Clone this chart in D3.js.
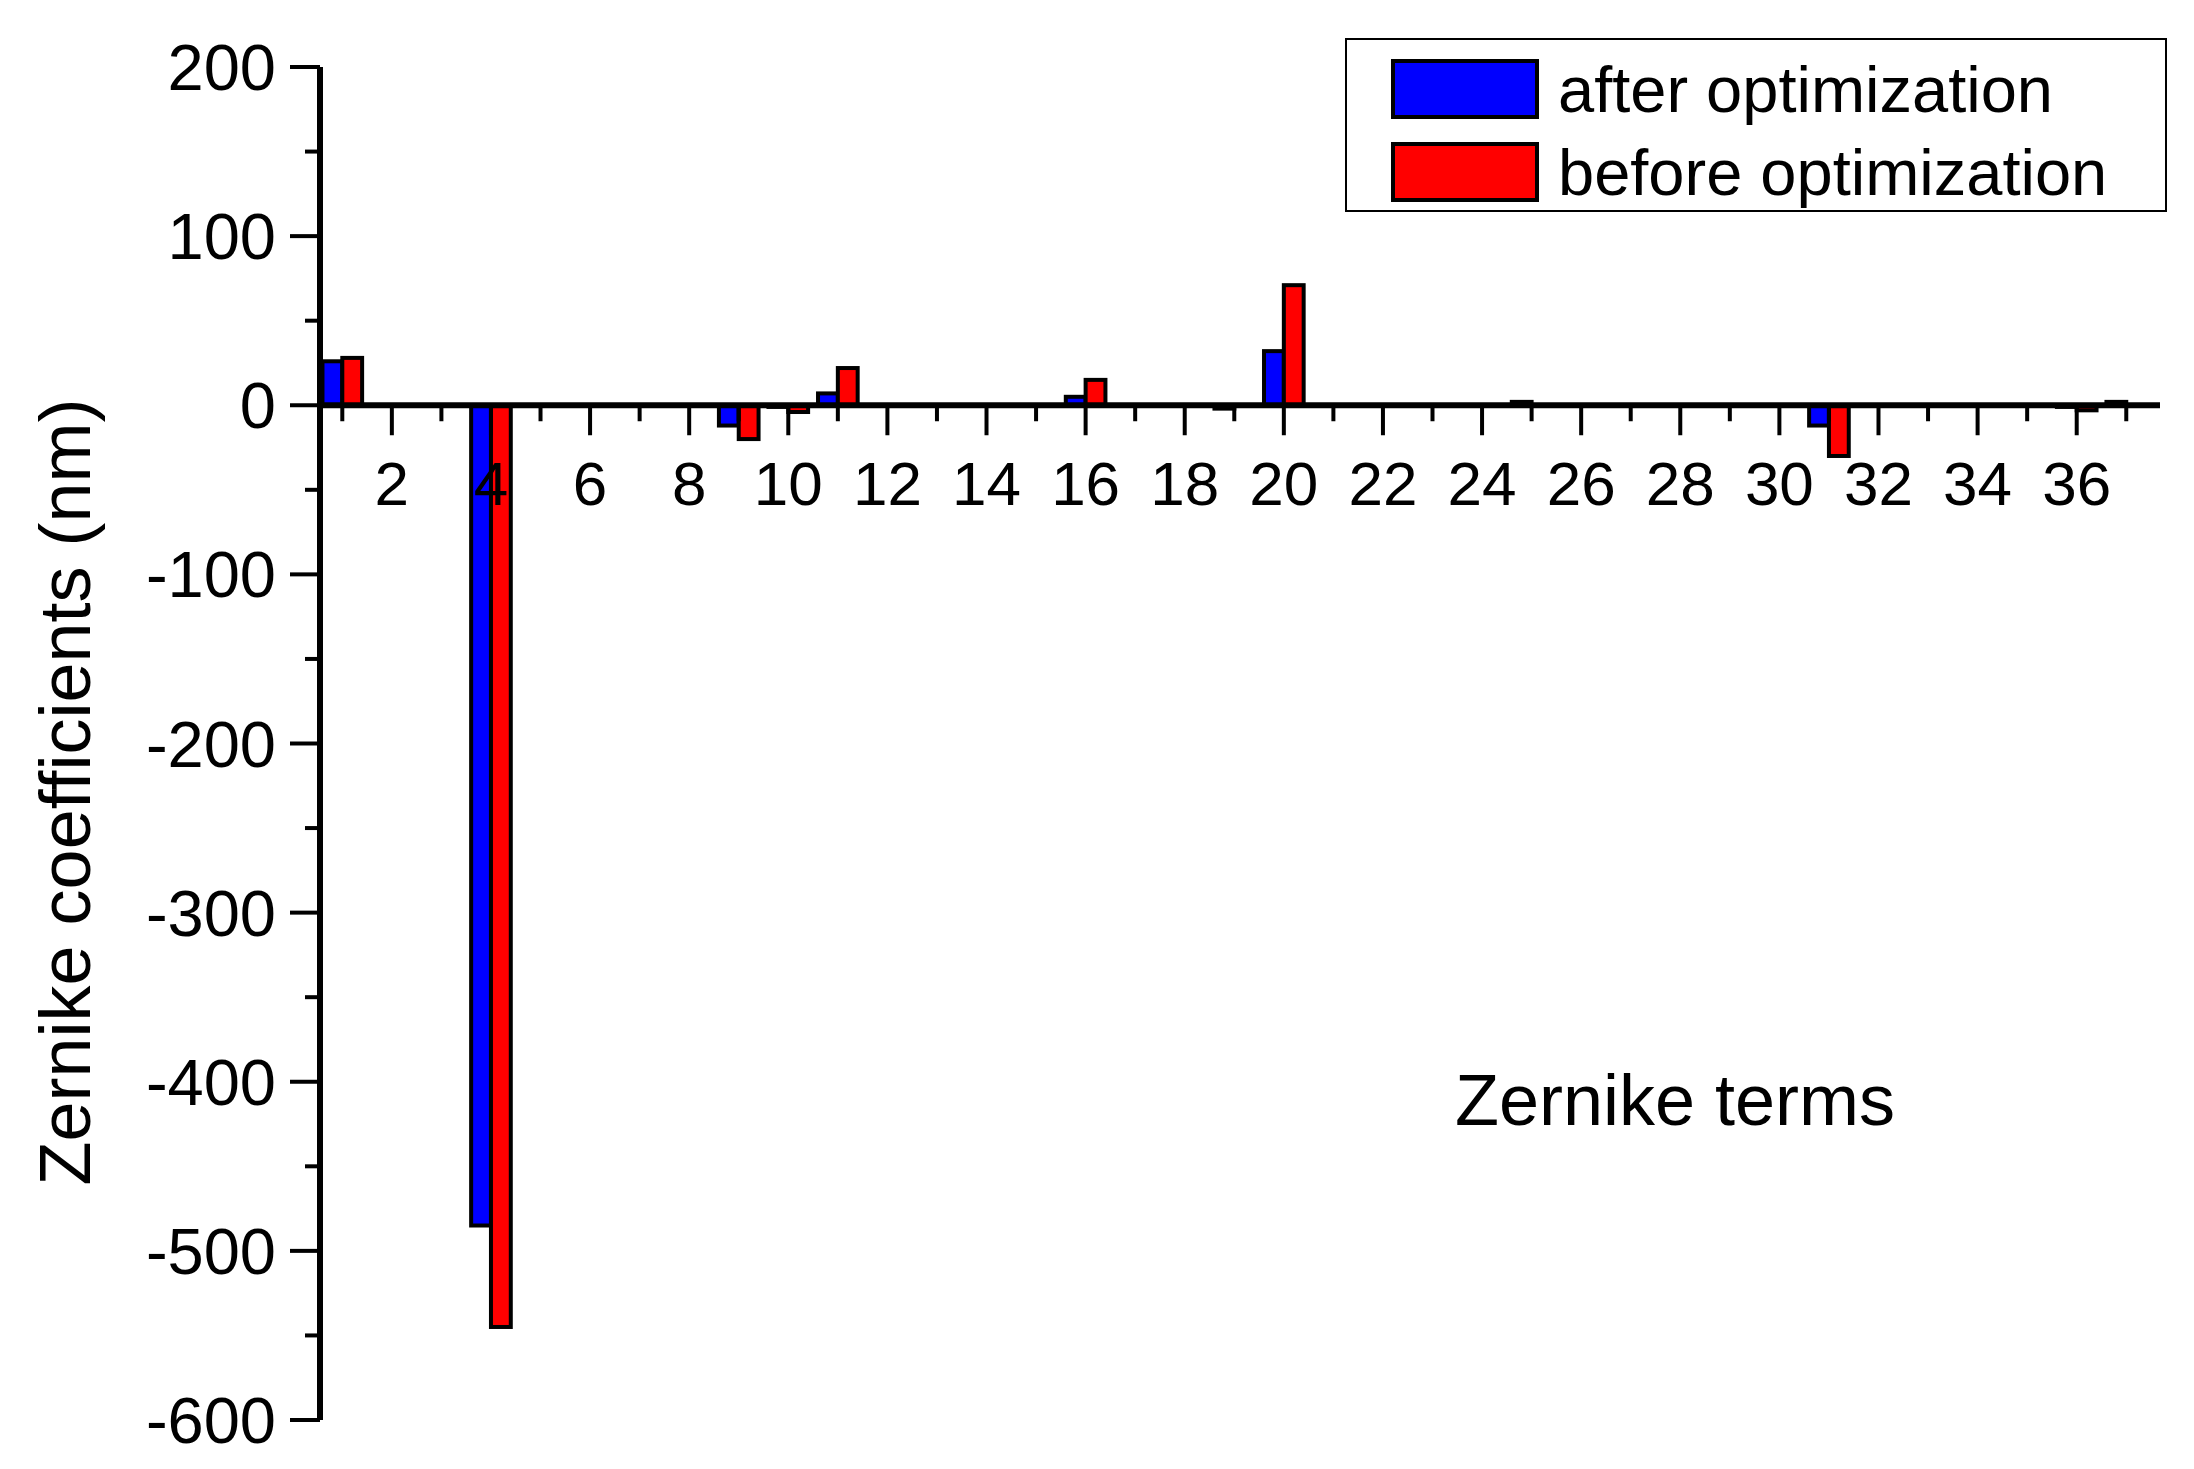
<!DOCTYPE html>
<html><head><meta charset="utf-8">
<script src="https://cdn.jsdelivr.net/npm/d3@7"></script>
<style>body{margin:0;background:#fff}</style>
</head><body><div id="chart"></div>
<script>
const terms = d3.range(1, 38);
const after = [26,0,0,-485,0,0,0,0,-12,-1,7,0,0,0,0,5,0,0,-2,32,0,0,0,0,2,0,0,0,0,0,-12,0,0,0,0,-1,2];
const before = [28,0,0,-545,0,0,0,0,-20,-4,22,0,0,0,0,15,0,0,0,71,0,0,0,0,0,0,0,0,0,0,-30,0,0,0,0,-3,0];
const yTicks = [200,100,0,-100,-200,-300,-400,-500,-600];
const xTicks = d3.range(2, 37, 2);

const width = 2194, height = 1469;
const svg = d3.select('#chart').append('svg').attr('width', width).attr('height', height)
  .style('font-family', 'Liberation Sans, Arial, sans-serif');

const x = d3.scaleLinear().domain([0.55, 37.6]).range([320, 2156]);
const y = d3.scaleLinear().domain([-600, 200]).range([1420, 67]);
const bw = 0.4;

// bars
function bars(data, off, color) {
  svg.append('g').selectAll('rect').data(data).enter().append('rect')
    .attr('x', (d, i) => x(terms[i] + off))
    .attr('width', x(bw) - x(0))
    .attr('y', d => y(Math.max(0, d)))
    .attr('height', d => Math.abs(y(d) - y(0)))
    .attr('fill', color).attr('stroke', '#000').attr('stroke-width', 4)
    .style('display', d => d === 0 ? 'none' : null);
}
bars(after, -bw, '#0000ff');
bars(before, 0, '#ff0000');

// y axis
svg.append('line').attr('x1', 320).attr('x2', 320).attr('y1', y(200)).attr('y2', y(-600))
  .attr('stroke', '#000').attr('stroke-width', 6);
svg.append('g').selectAll('line').data(d3.range(-600, 201, 50)).enter().append('line')
  .attr('x1', 320).attr('x2', d => d % 100 === 0 ? 290 : 305)
  .attr('y1', d => y(d)).attr('y2', d => y(d)).attr('stroke', '#000').attr('stroke-width', 4);
svg.append('g').selectAll('text').data(yTicks).enter().append('text')
  .attr('x', 276).attr('y', d => y(d) + 23).attr('text-anchor', 'end')
  .attr('font-size', 65).text(d => d);

// x axis at zero
svg.append('line').attr('x1', 320).attr('x2', 2160).attr('y1', y(0)).attr('y2', y(0))
  .attr('stroke', '#000').attr('stroke-width', 6);
svg.append('g').selectAll('line').data(terms).enter().append('line')
  .attr('x1', d => x(d)).attr('x2', d => x(d))
  .attr('y1', y(0)).attr('y2', d => y(0) + (d % 2 === 0 ? 30 : 16))
  .attr('stroke', '#000').attr('stroke-width', 4);
svg.append('g').selectAll('text').data(xTicks).enter().append('text')
  .attr('x', d => x(d)).attr('y', 505).attr('text-anchor', 'middle')
  .attr('font-size', 62).text(d => d);

// titles
svg.append('text').attr('x', 1675).attr('y', 1125).attr('text-anchor', 'middle')
  .attr('font-size', 72).text('Zernike terms');
svg.append('text').attr('transform', 'translate(90,792) rotate(-90)').attr('text-anchor', 'middle')
  .attr('font-size', 72).text('Zernike coefficients (nm)');

// legend
svg.append('rect').attr('x', 1346).attr('y', 39).attr('width', 820).attr('height', 172)
  .attr('fill', '#fff').attr('stroke', '#000').attr('stroke-width', 2);
[['after optimization', '#0000ff'], ['before optimization', '#ff0000']].forEach((l, i) => {
  svg.append('rect').attr('x', 1393).attr('y', 61 + i * 83).attr('width', 144).attr('height', 56)
    .attr('fill', l[1]).attr('stroke', '#000').attr('stroke-width', 4);
  svg.append('text').attr('x', 1558).attr('y', 112 + i * 83).attr('font-size', 65).text(l[0]);
});
</script></body></html>
